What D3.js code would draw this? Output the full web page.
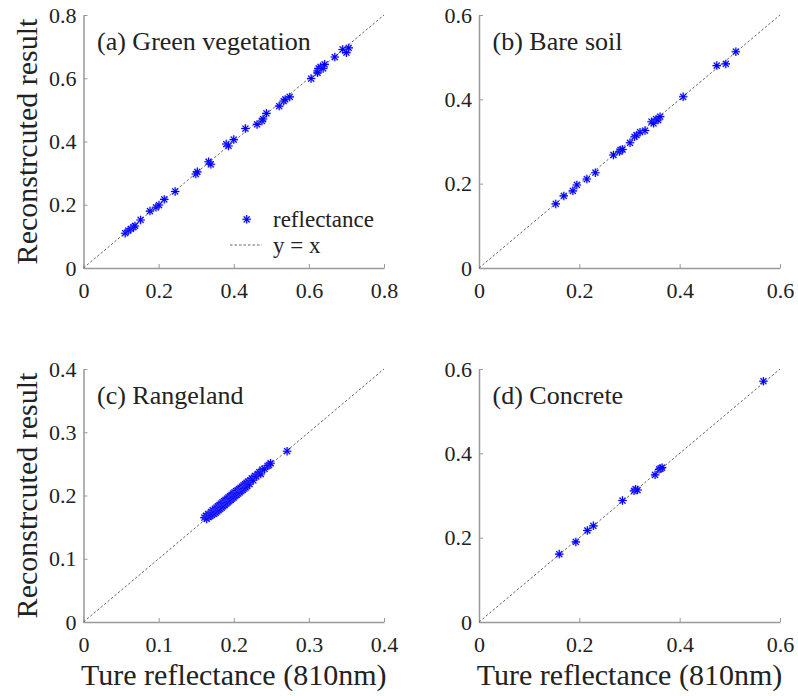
<!DOCTYPE html>
<html>
<meta charset="utf-8">
<title>Reconstructed vs true reflectance</title>
<style>
  body { margin: 0; background: #fff; }
  text { font-family: "Liberation Serif", "Times New Roman", serif; fill: #222; }
</style>
<body>
<div id="chart"></div>
<script src="https://d3js.org/d3.v7.min.js"></script>
<script>
// ---- data ----
var greenVeg = [
  [0.111,0.110],[0.119,0.118],[0.126,0.124],[0.133,0.129],[0.137,0.133],[0.152,0.152],
  [0.177,0.180],[0.193,0.192],[0.201,0.199],[0.215,0.217],[0.244,0.242],[0.299,0.297],
  [0.303,0.304],[0.333,0.336],[0.339,0.328],[0.380,0.392],[0.386,0.386],[0.400,0.406],
  [0.431,0.441],[0.462,0.454],[0.475,0.465],[0.478,0.471],[0.487,0.489],[0.521,0.512],
  [0.533,0.528],[0.537,0.533],[0.549,0.541],[0.606,0.599],[0.623,0.623],[0.626,0.631],
  [0.631,0.636],[0.638,0.631],[0.642,0.644],[0.623,0.617],[0.669,0.667],[0.690,0.691],
  [0.700,0.681],[0.706,0.696]
];
var bareSoil = [
  [0.153,0.152],[0.169,0.171],[0.187,0.183],[0.195,0.197],[0.215,0.211],[0.232,0.226],
  [0.268,0.268],[0.280,0.276],[0.282,0.280],[0.286,0.281],[0.301,0.297],[0.310,0.311],
  [0.314,0.315],[0.321,0.322],[0.331,0.326],[0.344,0.347],[0.348,0.343],[0.353,0.353],
  [0.357,0.351],[0.361,0.359],[0.407,0.406],[0.474,0.480],[0.492,0.484],[0.512,0.513]
];
var rangeland = [
  [0.161,0.165],[0.163,0.168],[0.164,0.163],[0.166,0.171],[0.167,0.166],[0.169,0.168],
  [0.170,0.174],[0.171,0.169],[0.172,0.177],[0.174,0.171],[0.175,0.179],[0.176,0.173],
  [0.177,0.181],[0.178,0.175],[0.179,0.183],[0.180,0.177],[0.181,0.185],[0.182,0.179],
  [0.183,0.187],[0.184,0.181],[0.185,0.189],[0.186,0.183],[0.187,0.191],[0.188,0.185],
  [0.189,0.193],[0.190,0.187],[0.191,0.195],[0.192,0.189],[0.193,0.197],[0.194,0.191],
  [0.195,0.199],[0.196,0.193],[0.197,0.201],[0.198,0.195],[0.199,0.203],[0.200,0.197],
  [0.201,0.205],[0.202,0.199],[0.203,0.207],[0.204,0.201],[0.205,0.208],[0.206,0.203],
  [0.207,0.210],[0.208,0.205],[0.209,0.212],[0.210,0.207],[0.211,0.214],[0.212,0.209],
  [0.213,0.216],[0.214,0.211],[0.215,0.218],[0.216,0.213],[0.217,0.220],[0.218,0.215],
  [0.219,0.222],[0.221,0.218],[0.222,0.224],[0.224,0.227],[0.226,0.224],[0.228,0.231],
  [0.230,0.230],[0.232,0.234],[0.234,0.237],[0.236,0.234],[0.238,0.241],[0.241,0.242],
  [0.245,0.247],[0.247,0.248],[0.249,0.251],[0.271,0.270]
];
var concrete = [
  [0.160,0.161],[0.193,0.190],[0.216,0.217],[0.228,0.228],[0.286,0.288],[0.309,0.311],
  [0.312,0.315],[0.316,0.313],[0.351,0.349],[0.359,0.362],[0.362,0.364],[0.365,0.366],
  [0.567,0.571]
];
var panelLabels = ["(a) Green vegetation", "(b) Bare soil", "(c) Rangeland", "(d) Concrete"];
var panelMax = [0.8, 0.6, 0.4, 0.6];
var ticksA = [0, 0.2, 0.4, 0.6, 0.8];
var ticksB = [0, 0.2, 0.4, 0.6];
var ticksC = [0, 0.1, 0.2, 0.3, 0.4];
var ticksD = [0, 0.2, 0.4, 0.6];
var legendLabels = ["reflectance", "y = x"];
var xTitle = "Ture reflectance (810nm)";
var yTitle = "Reconstrcuted result";

// ---- layout ----
var W = 798, H = 696;
var cols = [[83.5, 384], [479, 780]];
var rows = [[15, 268], [369, 622]];
var panels = [
  { data: greenVeg, ticks: ticksA, max: panelMax[0], label: panelLabels[0], c: 0, r: 0 },
  { data: bareSoil, ticks: ticksB, max: panelMax[1], label: panelLabels[1], c: 1, r: 0 },
  { data: rangeland, ticks: ticksC, max: panelMax[2], label: panelLabels[2], c: 0, r: 1 },
  { data: concrete, ticks: ticksD, max: panelMax[3], label: panelLabels[3], c: 1, r: 1 }
];

// MATLAB style '*' marker: 4 crossing strokes
var starSymbol = {
  draw: function (ctx, size) {
    var r = Math.sqrt(size) / 2, d = r * 0.7071;
    ctx.moveTo(-r, 0); ctx.lineTo(r, 0);
    ctx.moveTo(0, -r); ctx.lineTo(0, r);
    ctx.moveTo(-d, -d); ctx.lineTo(d, d);
    ctx.moveTo(-d, d); ctx.lineTo(d, -d);
  }
};
var star = d3.symbol().type(starSymbol).size(72);

var svg = d3.select("#chart").append("svg")
  .attr("width", W).attr("height", H);

function drawStar(sel) {
  // soft halo then the blue strokes, like the blurred original
  sel.append("path").attr("d", star)
    .attr("fill", "none").attr("stroke", "#7f7fff").attr("stroke-width", 2.4).attr("stroke-opacity", 0.35);
  sel.append("path").attr("d", star)
    .attr("fill", "none").attr("stroke", "#0000ff").attr("stroke-width", 1.1);
}

panels.forEach(function (p) {
  var x = d3.scaleLinear().domain([0, p.max]).range(cols[p.c]);
  var y = d3.scaleLinear().domain([0, p.max]).range([rows[p.r][1], rows[p.r][0]]);
  var g = svg.append("g");

  // axes
  var xa = g.append("g").attr("transform", "translate(0," + rows[p.r][1] + ")")
    .call(d3.axisBottom(x).tickValues(p.ticks).tickFormat(d3.format("")).tickSizeInner(-4).tickSizeOuter(0).tickPadding(14));
  var ya = g.append("g").attr("transform", "translate(" + cols[p.c][0] + ",0)")
    .call(d3.axisLeft(y).tickValues(p.ticks).tickFormat(d3.format("")).tickSizeInner(-4).tickSizeOuter(0).tickPadding(7));
  [xa, ya].forEach(function (a) {
    a.select(".domain").attr("stroke", "#999").attr("stroke-width", 1.5);
    a.selectAll(".tick line").attr("stroke", "#999").attr("stroke-width", 1);
    a.selectAll(".tick text").style("font-size", "22px").attr("fill", "#222")
      .style("font-family", "'Liberation Serif', 'Times New Roman', serif");
  });

  // y = x reference line
  g.append("line")
    .attr("x1", x(0)).attr("y1", y(0)).attr("x2", x(p.max)).attr("y2", y(p.max))
    .attr("stroke", "#555").attr("stroke-width", 0.9).attr("stroke-dasharray", "2.5,2");

  // points
  g.selectAll("g.pt").data(p.data).join("g")
    .attr("class", "pt")
    .attr("transform", function (d) { return "translate(" + x(d[0]) + "," + y(d[1]) + ")"; })
    .call(drawStar);

  // panel label
  g.append("text")
    .attr("x", cols[p.c][0] + 13.5).attr("y", rows[p.r][0] + 35)
    .style("font-size", "26px").text(p.label);

  // axis titles
  if (p.r === 1) {
    g.append("text")
      .attr("x", (cols[p.c][0] + cols[p.c][1]) / 2).attr("y", 685)
      .attr("text-anchor", "middle").style("font-size", "30px").text(xTitle);
  }
  if (p.c === 0) {
    var cy = (rows[p.r][0] + rows[p.r][1]) / 2;
    g.append("text")
      .attr("transform", "translate(37," + cy + ") rotate(-90)")
      .attr("text-anchor", "middle").style("font-size", "30px").text(yTitle);
  }

  // legend in panel (a)
  if (p.label === panelLabels[0]) {
    var lg = g.append("g");
    lg.append("g").attr("transform", "translate(246.7,219.3)").call(drawStar);
    lg.append("line").attr("x1", 230).attr("x2", 262).attr("y1", 245).attr("y2", 245)
      .attr("stroke", "#555").attr("stroke-width", 0.9).attr("stroke-dasharray", "2.5,2");
    lg.append("text").attr("x", 273).attr("y", 227).style("font-size", "23px").text(legendLabels[0]);
    lg.append("text").attr("x", 273).attr("y", 253).style("font-size", "23px").text(legendLabels[1]);
  }
});
</script>
</body>
</html>
